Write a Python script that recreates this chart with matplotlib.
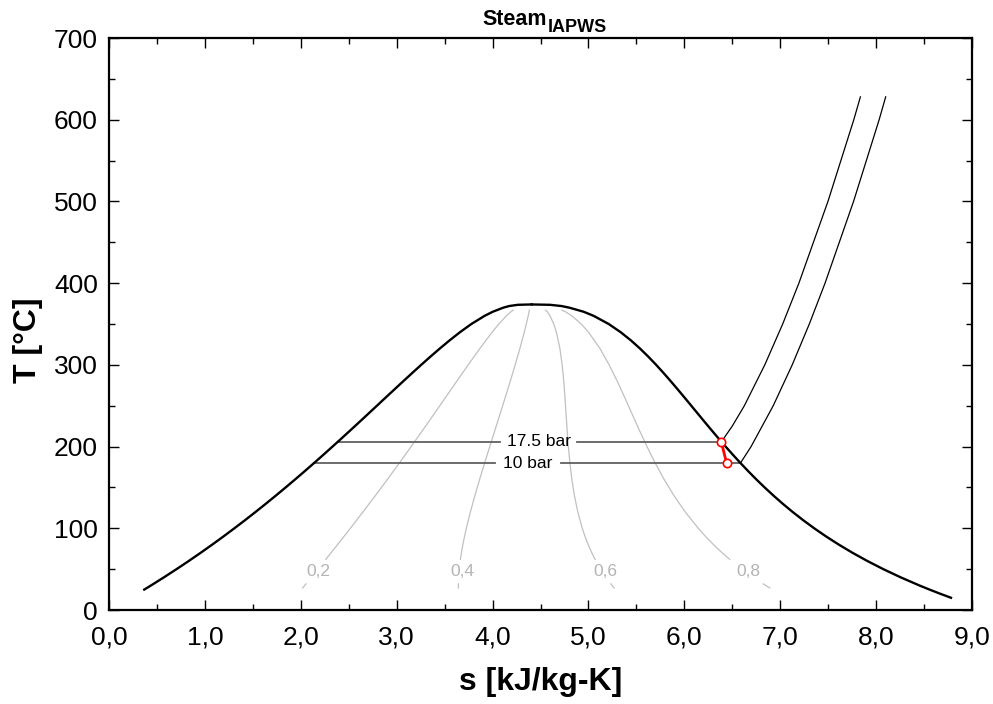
import matplotlib.pyplot as plt
import numpy as np

plt.rcParams['font.family'] = ['Liberation Sans', 'DejaVu Sans']

# saturation data (T in C, s in kJ/kg-K)
T_sat = [25, 30, 40, 50, 60, 70, 80, 90, 100, 110, 120, 130, 140, 150, 160, 170,
         180, 190, 200, 210, 220, 230, 240, 250, 260, 270, 280, 290, 300, 310,
         320, 330, 340, 350, 360, 365, 370, 372, 373.5, 373.946]
s_f = [0.3672, 0.4368, 0.5724, 0.7038, 0.8313, 0.9551, 1.0756, 1.1929, 1.3072, 1.4188,
       1.5279, 1.6346, 1.7392, 1.8418, 1.9426, 2.0417, 2.1392, 2.2355, 2.3305, 2.4245,
       2.5177, 2.6101, 2.7020, 2.7935, 2.8849, 2.9765, 3.0685, 3.1612, 3.2552, 3.3510,
       3.4494, 3.5518, 3.6601, 3.7784, 3.9167, 4.0014, 4.1112, 4.173, 4.263, 4.407]
T_sat_v = [15, 20] + T_sat
s_g = [8.7803, 8.6661, 8.5567, 8.4520, 8.2555, 8.0748, 7.9081, 7.7540, 7.6111, 7.4781,
       7.3541, 7.2381, 7.1291, 7.0264, 6.9293, 6.8371, 6.7491, 6.6650, 6.5840, 6.5059,
       6.4302, 6.3563, 6.2840, 6.2128, 6.1423, 6.0721, 6.0016, 5.9304, 5.8579, 5.7834,
       5.7059, 5.6244, 5.5372, 5.4422, 5.3356, 5.2110, 5.0536, 4.9497, 4.8012, 4.718,
       4.599, 4.407]

qualities = [0.2, 0.4, 0.6, 0.8]
quality_labels = ['0,2', '0,4', '0,6', '0,8']

# isobars
p10_T = [179.88, 200, 250, 300, 350, 400, 500, 600, 628]
p10_s = [6.5850, 6.6956, 6.9265, 7.1246, 7.3029, 7.4670, 7.7642, 8.0311, 8.0995]
p10_sf = 2.1381
p175_T = [205.72, 225, 250, 300, 350, 400, 500, 600, 628]
p175_s = [6.3853, 6.499, 6.6254, 6.8385, 7.0253, 7.1943, 7.4972, 7.7668, 7.8357]
p175_sf = 2.3843

# process
proc_s = [6.3853, 6.44]
proc_T = [205.72, 179.88]

fig = plt.figure(figsize=(9.93, 7.04), dpi=100)
ax = fig.add_axes([0.1098, 0.1335, 0.8691, 0.8125])

# dome
ax.plot(s_f, T_sat, color='black', lw=1.7, zorder=3)
ax.plot(s_g, T_sat_v, color='black', lw=1.7, zorder=3)

# quality lines
T_tab = np.array(T_sat)
sf_tab = np.array(s_f)
sg_tab = np.array(s_g[2:])
T_lo = np.array([27, 30, 32])
T_hi = np.array([62, 70, 80, 90, 100, 120, 140, 160, 180, 200, 220, 240, 260, 280, 300,
                 320, 340, 350, 360, 365, 367])
for x, lab in zip(qualities, quality_labels):
    for TT in (T_lo, T_hi):
        sf = np.interp(TT, T_tab, sf_tab)
        sg = np.interp(TT, T_tab, sg_tab)
        ax.plot(sf + x * (sg - sf), TT, color='#c0c0c0', lw=0.9, zorder=1)
    sf = np.interp(47, T_tab, sf_tab)
    sg = np.interp(47, T_tab, sg_tab)
    ax.text(sf + x * (sg - sf) + 0.03, 47, lab, color='#b4b4b4', fontsize=12.5,
            ha='center', va='center')

# isobars: two-phase part with label gap, then superheated part
for sf0, T0, sg0, lab, sc, half in [(p175_sf, p175_T[0], p175_s[0], '17.5 bar', 4.48, 0.40),
                                    (p10_sf, p10_T[0], p10_s[0], '10 bar', 4.37, 0.34)]:
    ax.plot([sf0, sc - half], [T0, T0], color='#606060', lw=1.3, zorder=2)
    ax.plot([sc + half, sg0], [T0, T0], color='#606060', lw=1.3, zorder=2)
    ax.text(sc, T0, lab, fontsize=12.5, ha='center', va='center')
ax.plot(p10_s, p10_T, color='black', lw=0.9, zorder=2)
ax.plot(p175_s, p175_T, color='black', lw=0.9, zorder=2)

# process line
ax.plot(proc_s, proc_T, color='red', lw=2, marker='o', ms=6,
        mfc='white', mec='red', mew=1.2, zorder=5)

ax.set_xlim(0, 9)
ax.set_ylim(0, 700)
ax.set_xticks(np.arange(0, 9.1, 1))
ax.set_xticklabels(['%d,0' % v for v in range(10)])
ax.set_xticks(np.arange(0.5, 9, 1), minor=True)
ax.set_yticks(np.arange(0, 701, 100))
ax.set_yticks(np.arange(50, 700, 100), minor=True)
ax.tick_params(which='both', direction='in', top=True, right=True, labelsize=19, width=1)
ax.tick_params(which='major', length=7)
ax.tick_params(which='minor', length=4)
ax.tick_params(axis='x', which='major', pad=11)
ax.tick_params(axis='y', which='major', pad=8)
for sp in ax.spines.values():
    sp.set_linewidth(1.6)

ax.set_xlabel('s [kJ/kg-K]', fontsize=23, fontweight='bold')
ax.set_ylabel('T [°C]', fontsize=23, fontweight='bold')
ax.xaxis.set_label_coords(0.5, -0.1)
ax.yaxis.set_label_coords(-0.0765, 0.472)

# title with subscript
fig.text(547 / 993, 1 - 25 / 704, 'Steam', fontsize=15.5, fontweight='bold',
         ha='right', va='baseline')
fig.text(548 / 993, 1 - 32 / 704, 'IAPWS', fontsize=13, fontweight='bold',
         ha='left', va='baseline')

plt.savefig('out.png')
